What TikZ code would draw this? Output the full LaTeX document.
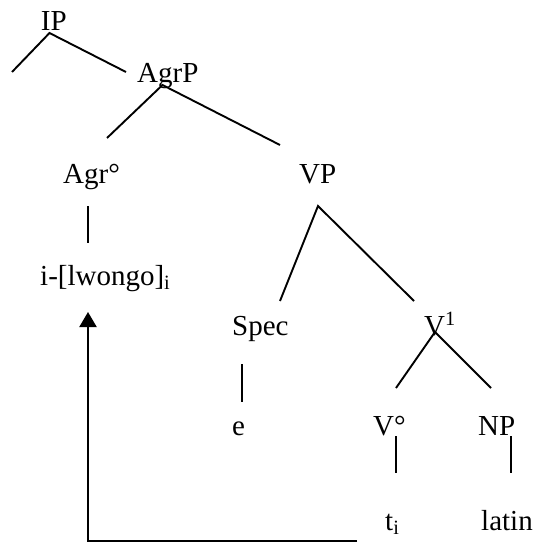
\documentclass[tikz,border=0pt]{standalone}
\usepackage{fontspec}
\setmainfont{Liberation Serif}
\usetikzlibrary{arrows.meta}
\begin{document}
\begin{tikzpicture}[x=1pt,y=-1pt,
  lbl/.style={anchor=base west,inner sep=0pt,font=\fontsize{29}{34}\selectfont},
  edge/.style={line width=1.9pt,line cap=butt},
  mv/.style={line width=2.2pt,-{Triangle[length=15pt,width=17pt]}}]
\useasboundingbox (0,0) rectangle (534,543);
% labels
\node[lbl] (IP)   at (40.7,31) {IP};
\node[lbl] (AgrP) at (137,82) {AgrP};
\node[lbl] (Agr)  at (63,183) {Agr°};
\node[lbl] (VP)   at (299,183) {VP};
\node[lbl] (lw)   at (40,285) {i-[lwongo]\textsubscript{i}};
\node[lbl] (Spec) at (232,335) {Spec};
\node[lbl] (V1)   at (424,335) {V\textsuperscript{1}};
\node[lbl] (e)    at (232,435) {e};
\node[lbl] (V0)   at (373,435) {V°};
\node[lbl] (NP)   at (478,435) {NP};
\node[lbl] (t)    at (385,530) {t\textsubscript{i}};
\node[lbl] (lat)  at (481,530) {latin};
% connector end points
\coordinate (IPs)   at (49.5,33);
\coordinate (IPl)   at (12,72);
\coordinate (IPr)   at (126,72);
\coordinate (AgrPs) at (162.5,85);
\coordinate (AgrPl) at (107,138);
\coordinate (AgrPr) at (280,145);
\coordinate (Agrs)  at (88,206);
\coordinate (lwn)   at (88,243);
\coordinate (VPs)   at (318,206);
\coordinate (Specn) at (280,301);
\coordinate (V1n)   at (414,301);
\coordinate (Specs) at (242,364);
\coordinate (en)    at (242,402);
\coordinate (V1s)   at (435,332);
\coordinate (V0n)   at (396,388);
\coordinate (NPn)   at (491,388);
\coordinate (V0s)   at (396,436);
\coordinate (tn)    at (396,473);
\coordinate (NPs)   at (511,436);
\coordinate (latn)  at (511,473);
\coordinate (mvA)   at (357,541);
\coordinate (mvB)   at (88,541);
\coordinate (mvC)   at (88,312);
% tree edges
\draw[edge] (IPl) -- (IPs) -- (IPr);
\draw[edge] (AgrPl) -- (AgrPs) -- (AgrPr);
\draw[edge] (Agrs) -- (lwn);
\draw[edge] (Specn) -- (VPs) -- (V1n);
\draw[edge] (Specs) -- (en);
\draw[edge] (V0n) -- (V1s) -- (NPn);
\draw[edge] (V0s) -- (tn);
\draw[edge] (NPs) -- (latn);
% movement arrow
\draw[mv] (mvA) -- (mvB) -- (mvC);
\end{tikzpicture}
\end{document}
